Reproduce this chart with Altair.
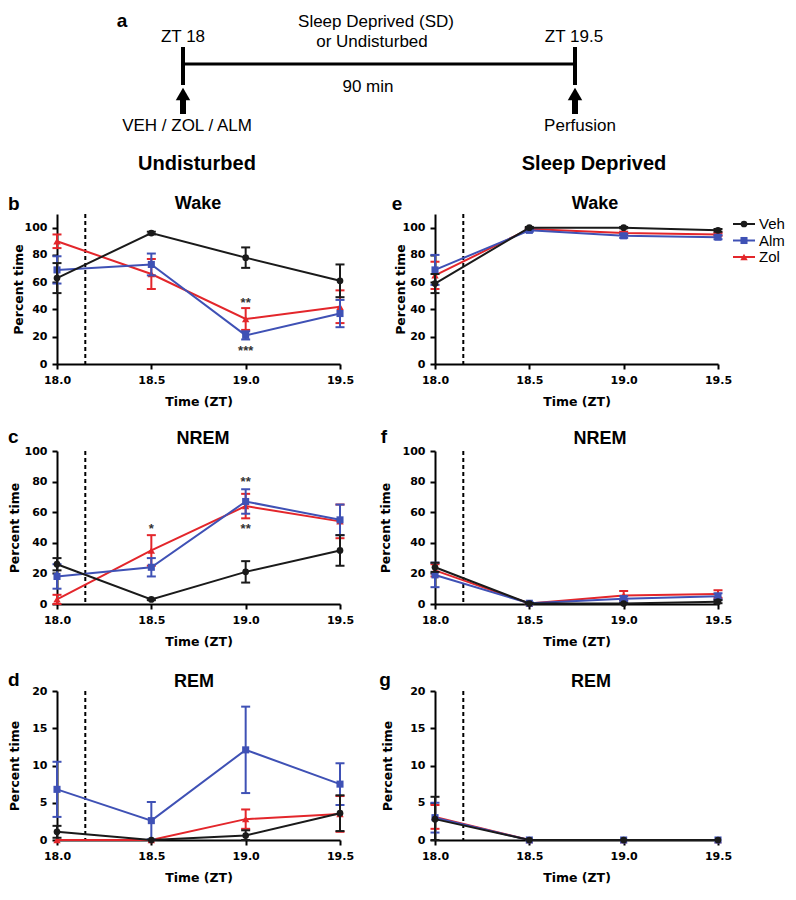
import altair as alt
import pandas as pd

# ---------------- data ----------------
TIME = [18.0, 18.5, 19.0, 19.5]
SERIES = ["Veh", "Alm", "Zol"]
DRAW_ORDER = ["Zol", "Alm", "Veh"]
COLORS = {"Veh": "#1a1a1a", "Alm": "#3f51b5", "Zol": "#e3262b"}
SHAPES = {"Veh": "circle", "Alm": "square", "Zol": "triangle-up"}
MSIZE = {"Veh": 45, "Alm": 50, "Zol": 55}
DRUG_TIME = 18.15  # dashed line (injection)

WAKE_UND = {"Veh": [63, 96, 78, 61], "Alm": [69, 73, 21, 37], "Zol": [90, 66, 33, 42]}
WAKE_UND_SEM = {"Veh": [11, 1, 7.5, 12], "Alm": [10, 8, 3, 10], "Zol": [5, 11, 8, 12]}

WAKE_SD = {"Veh": [59, 100, 100, 98], "Alm": [69, 98, 94, 93], "Zol": [65, 99, 96, 95]}
WAKE_SD_SEM = {"Veh": [7, 0.5, 0.5, 1], "Alm": [11, 1, 1.5, 1.5], "Zol": [10, 0.5, 1, 1]}

NREM_UND = {"Veh": [26, 3, 21, 35], "Alm": [18, 24, 67, 55], "Zol": [3, 35, 64, 54]}
NREM_UND_SEM = {"Veh": [4, 0.5, 7, 10], "Alm": [8, 6, 8, 10], "Zol": [3, 10, 8, 11]}

NREM_SD = {"Veh": [24, 0.3, 0.3, 1.5], "Alm": [19, 0.5, 3.5, 5], "Zol": [22, 0.3, 5.5, 6.5]}
NREM_SD_SEM = {"Veh": [3, 0.3, 0.3, 1], "Alm": [8, 0.5, 1.5, 2], "Zol": [4, 0.3, 3, 2.5]}

REM_UND = {"Veh": [1.1, 0, 0.6, 3.6], "Alm": [6.8, 2.6, 12.1, 7.5], "Zol": [0, 0, 2.8, 3.5]}
REM_UND_SEM = {"Veh": [0.8, 0, 0.7, 2.4], "Alm": [3.7, 2.5, 5.8, 2.8], "Zol": [0, 0, 1.3, 2.4]}

REM_SD = {"Veh": [2.8, 0, 0, 0], "Alm": [3.0, 0, 0, 0], "Zol": [3.1, 0, 0, 0]}
REM_SD_SEM = {"Veh": [3.0, 0, 0, 0], "Alm": [2.0, 0, 0, 0], "Zol": [1.6, 0, 0, 0]}

SIG_WAKE_UND = {"time": [19.0, 19.0], "pct": [47, 12], "label": ["**", "***"]}
SIG_NREM_UND = {"time": [18.5, 19.0, 19.0], "pct": [51, 82, 51], "label": ["*", "**", "**"]}

PCT_TICKS = [0, 20, 40, 60, 80, 100]
REM_TICKS = [0, 5, 10, 15, 20]

SANS = "Liberation Sans"
AXFONT = "DejaVu Sans"
W = 283


# ---------------- helpers ----------------
def text_mark(s, x, y, size, bold=False, align="center", font=SANS, color="black"):
    return alt.Chart(pd.DataFrame({"label": [s]})).mark_text(
        align=align, baseline="middle", font=font, fontSize=size,
        fontWeight="bold" if bold else "normal", color=color
    ).encode(text="label:N", x=alt.value(x), y=alt.value(y))


def seg(x1, y1, x2, y2, w, color="black"):
    return alt.Chart(pd.DataFrame({"k": [0]})).mark_rule(
        color=color, strokeWidth=w
    ).encode(x=alt.value(x1), x2=alt.value(x2), y=alt.value(y1), y2=alt.value(y2))


def arrow(x, y_tip):
    head = alt.Chart(pd.DataFrame({"k": [0]})).mark_point(
        shape="triangle-up", filled=True, size=210, color="black", opacity=1
    ).encode(x=alt.value(x), y=alt.value(y_tip + 7))
    return [seg(x, y_tip + 12, x, y_tip + 27, 6), head]


def panel(vals, sems, ymax, ticks, height, ytx, letter, lx, ly, lalign,
          title, tx, ty, sig=None, extras=()):
    rows = []
    for s in SERIES:
        for t, m, e in zip(TIME, vals[s], sems[s]):
            rows.append({"time": t, "series": s, "mean": m, "sem": e,
                         "lo": max(m - e, 0), "hi": m + e})
    df = pd.DataFrame(rows)
    xenc = alt.X("time:Q", scale=alt.Scale(domain=[18, 19.5], nice=False, zero=False),
                 axis=alt.Axis(values=TIME, format=".1f", title="Time (ZT)",
                               labelFlush=False))
    yscale = alt.Scale(domain=[0, ymax], nice=False, zero=True)
    yaxis = alt.Axis(values=ticks, title="Percent time", titleX=ytx, titleY=height / 2,
                     titleBaseline="middle", titleAlign="center", titleAngle=270)

    def Y(f):
        return alt.Y(f, scale=yscale, axis=yaxis)

    layers = [alt.Chart(pd.DataFrame({"time": [DRUG_TIME]})).mark_rule(
        color="black", strokeWidth=2, strokeDash=[4, 3]).encode(x=xenc)]
    base = alt.Chart(df)
    for s in DRAW_ORDER:
        c = COLORS[s]
        b = base.transform_filter(alt.datum.series == s)
        err = b.transform_filter(alt.datum.sem > 0)
        layers.append(err.mark_rule(color=c, strokeWidth=2).encode(x=xenc, y=Y("lo:Q"), y2="hi:Q"))
        layers.append(err.mark_tick(orient="horizontal", size=9, thickness=2, color=c,
                                    opacity=1).encode(x=xenc, y=Y("lo:Q")))
        layers.append(err.mark_tick(orient="horizontal", size=9, thickness=2, color=c,
                                    opacity=1).encode(x=xenc, y=Y("hi:Q")))
        layers.append(b.mark_line(color=c, strokeWidth=2).encode(x=xenc, y=Y("mean:Q")))
        layers.append(b.mark_point(shape=SHAPES[s], filled=True, size=MSIZE[s], color=c,
                                   opacity=1).encode(x=xenc, y=Y("mean:Q")))
    if sig is not None:
        layers.append(alt.Chart(pd.DataFrame(sig)).mark_text(
            fontSize=13, font=SANS, color="#333333", dy=3, fontWeight="bold"
        ).encode(x=xenc, y=Y("pct:Q"), text="label:N"))
    layers.append(text_mark(letter, lx, ly, 19, bold=True, align=lalign))
    layers.append(text_mark(title, tx, ty, 18, bold=True))
    layers.extend(extras)
    return alt.layer(*layers).properties(width=W, height=height)


# ---------------- schematic (panel a) + column titles, drawn in panel b ----------------
schem = [
    text_mark("a", 65, -193, 19, bold=True),
    text_mark("Sleep Deprived (SD)", 319, -192, 17),
    text_mark("or Undisturbed", 315, -172, 17),
    text_mark("ZT 18", 126, -177, 17),
    text_mark("ZT 19.5", 517, -177, 17),
    seg(126, -167, 126, -129, 4),
    seg(518, -167, 518, -129, 4),
    seg(126, -150, 518, -150, 3),
    text_mark("90 min", 311, -127, 17),
    *arrow(126, -127),
    *arrow(518, -127),
    text_mark("VEH / ZOL / ALM", 130, -88, 17),
    text_mark("Perfusion", 523, -88, 17),
    text_mark("Undisturbed", 140, -50, 20, bold=True),
]

legend = [text_mark("Sleep Deprived", 159, -50, 20, bold=True)]
for i, s in enumerate(SERIES):
    yy = 10 + i * 16.5
    legend.append(seg(298, yy, 320, yy, 2, COLORS[s]))
    legend.append(alt.Chart(pd.DataFrame({"series": [s]})).mark_point(
        shape=SHAPES[s], filled=True, size=MSIZE[s], color=COLORS[s], opacity=1
    ).encode(x=alt.value(309), y=alt.value(yy)))
    legend.append(alt.Chart(pd.DataFrame({"series": [s]})).mark_text(
        align="left", baseline="middle", font=SANS, fontSize=15, color="black"
    ).encode(text="series:N", x=alt.value(324), y=alt.value(yy)))

H1, H2, H3 = 150, 153, 149

pb = panel(WAKE_UND, WAKE_UND_SEM, 110, PCT_TICKS, H1, -39, "b", -49, -10, "left",
           "Wake", 141, -10, sig=SIG_WAKE_UND, extras=schem)
pe = panel(WAKE_SD, WAKE_SD_SEM, 110, PCT_TICKS, H1, -35, "e", -38, -10, "center",
           "Wake", 160, -10, extras=legend)
pc = panel(NREM_UND, NREM_UND_SEM, 100, PCT_TICKS, H2, -43, "c", -49, -14, "left",
           "NREM", 146, -12, sig=SIG_NREM_UND)
pf = panel(NREM_SD, NREM_SD_SEM, 100, PCT_TICKS, H2, -50, "f", -51, -14, "center",
           "NREM", 165, -12)
pdd = panel(REM_UND, REM_UND_SEM, 20, REM_TICKS, H3, -43, "d", -49, -11, "left",
            "REM", 137, -9)
pg = panel(REM_SD, REM_SD_SEM, 20, REM_TICKS, H3, -48, "g", -50, -11, "center",
           "REM", 156, -9)

chart = alt.concat(
    pb, pe, pc, pf, pdd, pg, columns=2,
    spacing={"row": 87, "column": 95}, bounds="flush", align="each"
).properties(
    padding={"top": 4, "left": 0, "right": 0, "bottom": 0}
).configure_view(stroke=None).configure_axis(
    grid=False, domainColor="black", domainWidth=2, tickColor="black", tickWidth=2,
    tickSize=5, labelFont=AXFONT, labelFontSize=11, labelFontWeight="bold",
    labelColor="black", labelPadding=5, titleFont=AXFONT, titleFontSize=12.5,
    titleFontWeight="bold", titleColor="black"
).configure_axisX(titlePadding=10)

chart.save("out.html", embed_options={"renderer": "svg", "actions": False})
